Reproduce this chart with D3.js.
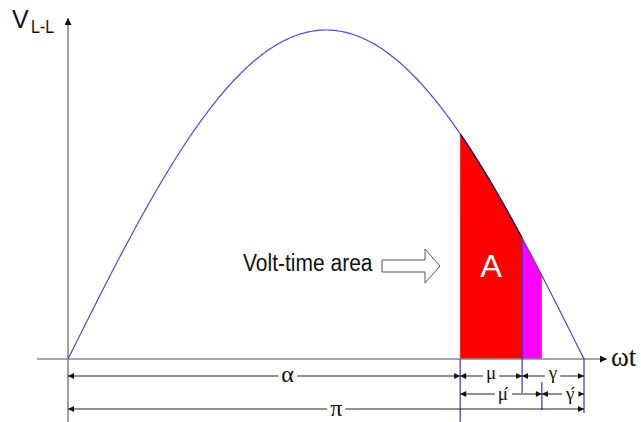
<!DOCTYPE html>
<html>
<head>
<meta charset="utf-8">
<script src="https://cdn.jsdelivr.net/npm/d3@7"></script>
<style>
  html, body { margin: 0; padding: 0; background: #fff; }
  svg { display: block; }
</style>
</head>
<body>
<svg id="chart" width="641" height="422"></svg>
<script>
// Phase angles (degrees) of the line-to-line voltage half cycle
const phaseNames = ["0", "α", "α+μ", "α+μ´", "π"];
const phaseDeg   = [0, 136.8, 158.4, 165.3, 180];

// Dimension spans: start / end phase index, label and row
const spanStart = [0, 1, 2, 1, 3, 0];
const spanEnd   = [1, 2, 4, 3, 4, 4];
const spanLabel = ["α", "μ", "γ", "μ´", "γ´", "π"];
const spanRow   = [0, 0, 0, 1, 1, 2];

// Shaded volt-time regions (phase index ranges)
const regionFrom  = [1, 2];
const regionTo    = [2, 3];
const regionColor = ["#ff0000", "#ff00ff"];

const svg = d3.select("#chart");

const x = d3.scaleLinear().domain([0, 180]).range([68, 584]);
const y = d3.scaleLinear().domain([0, 1]).range([359, 30]);
const v = d => Math.sin(d * Math.PI / 180);

const rowY = [376, 394, 409];
const labelFrac = [0.56, 0.5, 0.5, 0.5, 0.63, 0.52];
const labelSize = [24, 19, 19, 19, 19, 24];
const labelDrop = [6, 3, 3, 6, 6, 7];
const extBottom = [422, 422, 393, 410, 413];
const extTop    = [null, 359, null, 382, 359];

// arrowhead markers
const defs = svg.append("defs");
function marker(id, color, w, h) {
  defs.append("marker")
    .attr("id", id).attr("viewBox", "0 0 10 10")
    .attr("refX", 10).attr("refY", 5)
    .attr("markerWidth", w).attr("markerHeight", h)
    .attr("markerUnits", "userSpaceOnUse")
    .attr("orient", "auto-start-reverse")
    .append("path").attr("d", "M0,0L10,5L0,10Z").attr("fill", color);
}
marker("dim", "#111", 8, 6);
marker("ax", "#111", 8, 7);

// shaded regions under the curve
regionFrom.forEach((f, i) => {
  const a = phaseDeg[f], b = phaseDeg[regionTo[i]];
  const pts = d3.range(a, b, 0.25).concat([b]);
  svg.append("path")
    .attr("d", d3.area().x(d => x(d)).y0(y(0)).y1(d => y(v(d)))(pts))
    .attr("fill", regionColor[i]);
});

// axes
svg.append("line")
  .attr("x1", 37).attr("x2", 607).attr("y1", y(0)).attr("y2", y(0))
  .attr("stroke", "#8a8a8a").attr("stroke-width", 1.6)
  .attr("marker-end", "url(#ax)");
svg.append("line")
  .attr("x1", x(0)).attr("x2", x(0)).attr("y1", 422).attr("y2", 18)
  .attr("stroke", "#8a8a8a").attr("stroke-width", 1.6)
  .attr("marker-end", "url(#ax)");

// extension lines
phaseDeg.forEach((p, i) => {
  if (i === 0) return;
  const top = i === 2 ? y(v(p)) : extTop[i];
  svg.append("line")
    .attr("x1", x(p)).attr("x2", x(p))
    .attr("y1", top).attr("y2", extBottom[i])
    .attr("stroke", "#3434c4").attr("stroke-width", 1.2);
});

// waveform
const wave = d3.range(0, 180.01, 0.5);
svg.append("path")
  .attr("d", d3.line().x(d => x(d)).y(d => y(v(d)))(wave))
  .attr("fill", "none").attr("stroke", "#4a4ad8").attr("stroke-width", 1.2);
// dark edge on top of the red region
const redTop = d3.range(phaseDeg[1], phaseDeg[2], 0.25).concat([phaseDeg[2]]);
svg.append("path")
  .attr("d", d3.line().x(d => x(d)).y(d => y(v(d)))(redTop))
  .attr("fill", "none").attr("stroke", "#1a1a40").attr("stroke-width", 1.3);

// dimension lines with labels
const serif = "'Liberation Serif', 'DejaVu Serif', serif";
spanLabel.forEach((lab, i) => {
  const x0 = x(phaseDeg[spanStart[i]]), x1 = x(phaseDeg[spanEnd[i]]);
  const yy = rowY[spanRow[i]];
  const g = svg.append("g");
  g.append("line")
    .attr("x1", x0).attr("x2", x1).attr("y1", yy).attr("y2", yy)
    .attr("stroke", "#222").attr("stroke-width", 1)
    .attr("marker-start", "url(#dim)").attr("marker-end", "url(#dim)");
  const primed = lab.length > 1;
  const lx = x0 + (x1 - x0) * labelFrac[i];
  const bg = g.append("rect").attr("fill", "#fff");
  const t = g.append("text")
    .attr("x", lx).attr("y", yy + labelDrop[i])
    .attr("text-anchor", "middle")
    .attr("font-family", serif)
    .attr("font-size", labelSize[i]).attr("fill", "#111")
    .attr("letter-spacing", primed ? -5 : 0)
    .text(lab);
  const bb = t.node().getBBox();
  bg.attr("x", bb.x - 3).attr("width", bb.width + 6)
    .attr("y", yy - 3).attr("height", 6);
});

// axis labels
const sans = "'Liberation Sans', Arial, sans-serif";
function stretched(txt, px, py, size, sy) {
  return svg.append("text")
    .attr("transform", `translate(${px},${py}) scale(1,${sy})`)
    .attr("font-family", sans).attr("font-size", size).attr("fill", "#111")
    .text(txt);
}
stretched("V", 12, 28, 25, 1.0);
stretched("L-L", 31, 33, 16, 1.12);

svg.append("text")
  .attr("x", 611).attr("y", 366)
  .attr("font-family", serif)
  .attr("font-size", 27).attr("fill", "#111")
  .text("ωt");

// volt-time area annotation
stretched("Volt-time area", 243, 271, 21, 1.12);
svg.append("polygon")
  .attr("points", "382,260 425,260 425,249 440,266 425,283 425,272 382,272")
  .attr("fill", "#fff").attr("stroke", "#555").attr("stroke-width", 1);

svg.append("text")
  .attr("x", (x(phaseDeg[1]) + x(phaseDeg[2])) / 2).attr("y", 277)
  .attr("text-anchor", "middle")
  .attr("font-family", sans).attr("font-size", 31).attr("fill", "#fff")
  .attr("transform", "translate(-24.6,0) scale(1.05,1)")
  .text("A");
</script>
</body>
</html>
